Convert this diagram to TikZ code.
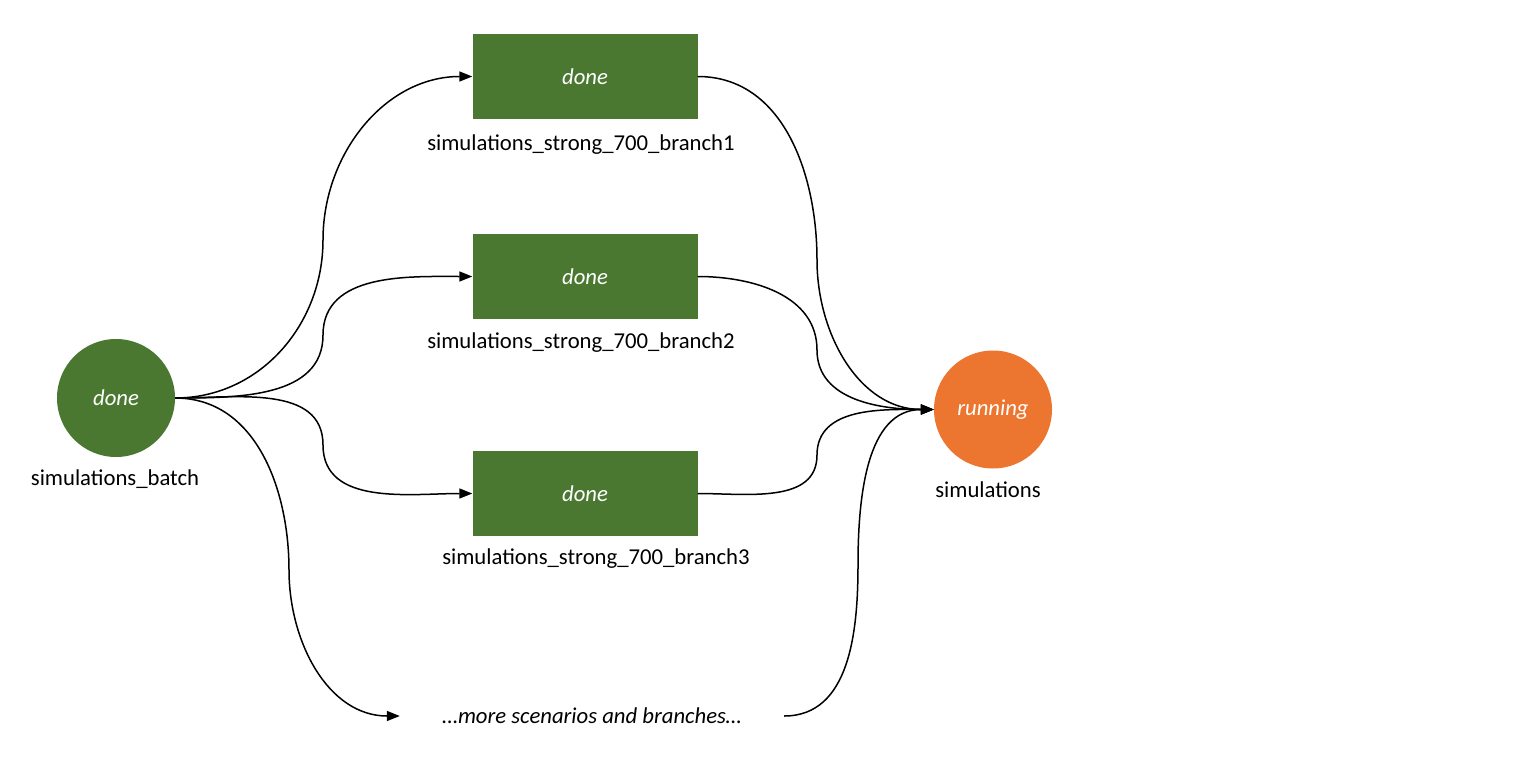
\documentclass[tikz,border=0pt]{standalone}
\usepackage{fontspec}
\setmainfont{Carlito}
\usetikzlibrary{arrows.meta}
\definecolor{dgreen}{HTML}{4A7831}
\definecolor{dorange}{HTML}{EC752F}
\tikzset{
  stcircle/.style={circle,minimum size=118pt,inner sep=0pt,text=white,font=\fontsize{22.7}{26}\selectfont\itshape},
  stbox/.style={rectangle,fill=dgreen,minimum width=225pt,minimum height=85pt,inner sep=0pt,text=white,font=\fontsize{22.7}{26}\selectfont\itshape},
  lbl/.style={anchor=base,inner sep=0pt,font=\fontsize{22.7}{26}\selectfont},
  conn/.style={line width=1.5pt,-{Triangle[length=13pt,width=10pt]}},
  plain/.style={line width=1.5pt}
}
\begin{document}
\begin{tikzpicture}[x=1pt,y=-1pt]
\useasboundingbox (0,0) rectangle (1526,771);
% nodes
\node[stcircle,fill=dgreen] (b) at (116,398) {done};
\node[lbl] (bl) at (115,485) {simulations\_batch};
\node[stbox] (r1) at (585,76.5) {done};
\node[lbl] (r1l) at (581,150) {simulations\_strong\_700\_branch1};
\node[stbox] (r2) at (585,276.5) {done};
\node[lbl] (r2l) at (581,348) {simulations\_strong\_700\_branch2};
\node[stbox] (r3) at (585,493.5) {done};
\node[lbl] (r3l) at (596,564) {simulations\_strong\_700\_branch3};
\node[stcircle,fill=dorange] (s) at (993,409.5) {running};
\node[lbl] (sl) at (988,497) {simulations};
\node[inner sep=0pt,minimum width=384pt,minimum height=30pt,font=\fontsize{22.7}{26}\selectfont\itshape] (more) at (592,716) {\ldots more scenarios and branches\ldots};
% waypoints
\coordinate (m1) at (323,240);
\coordinate (m2) at (323,335);
\coordinate (m3) at (323,445);
\coordinate (m4) at (289,570);
\coordinate (n1) at (817,260);
\coordinate (n2) at (817,350);
\coordinate (n3) at (817,455);
\coordinate (n4) at (858,565);
% connectors left
\draw[conn] (b.east) to[out=0,in=-90] (m1) to[out=90,in=180] (r1.west);
\draw[conn] (b.east) to[out=0,in=-90] (m2) to[out=90,in=180] (r2.west);
\draw[conn] (b.east) to[out=0,in=90] (m3) to[out=-90,in=180] (r3.west);
\draw[conn] (b.east) to[out=0,in=90] (m4) to[out=-90,in=180] (more.west);
% connectors right
\draw[conn] (r1.east) to[out=0,in=90] (n1) to[out=-90,in=180] (s.west);
\draw[conn] (r2.east) to[out=0,in=90] (n2) to[out=-90,in=180] (s.west);
\draw[conn] (r3.east) to[out=0,in=-90] (n3) to[out=90,in=180] (s.west);
\draw[conn] (more.east) to[out=0,in=-90] (n4) to[out=90,in=180] (s.west);
\end{tikzpicture}
\end{document}
